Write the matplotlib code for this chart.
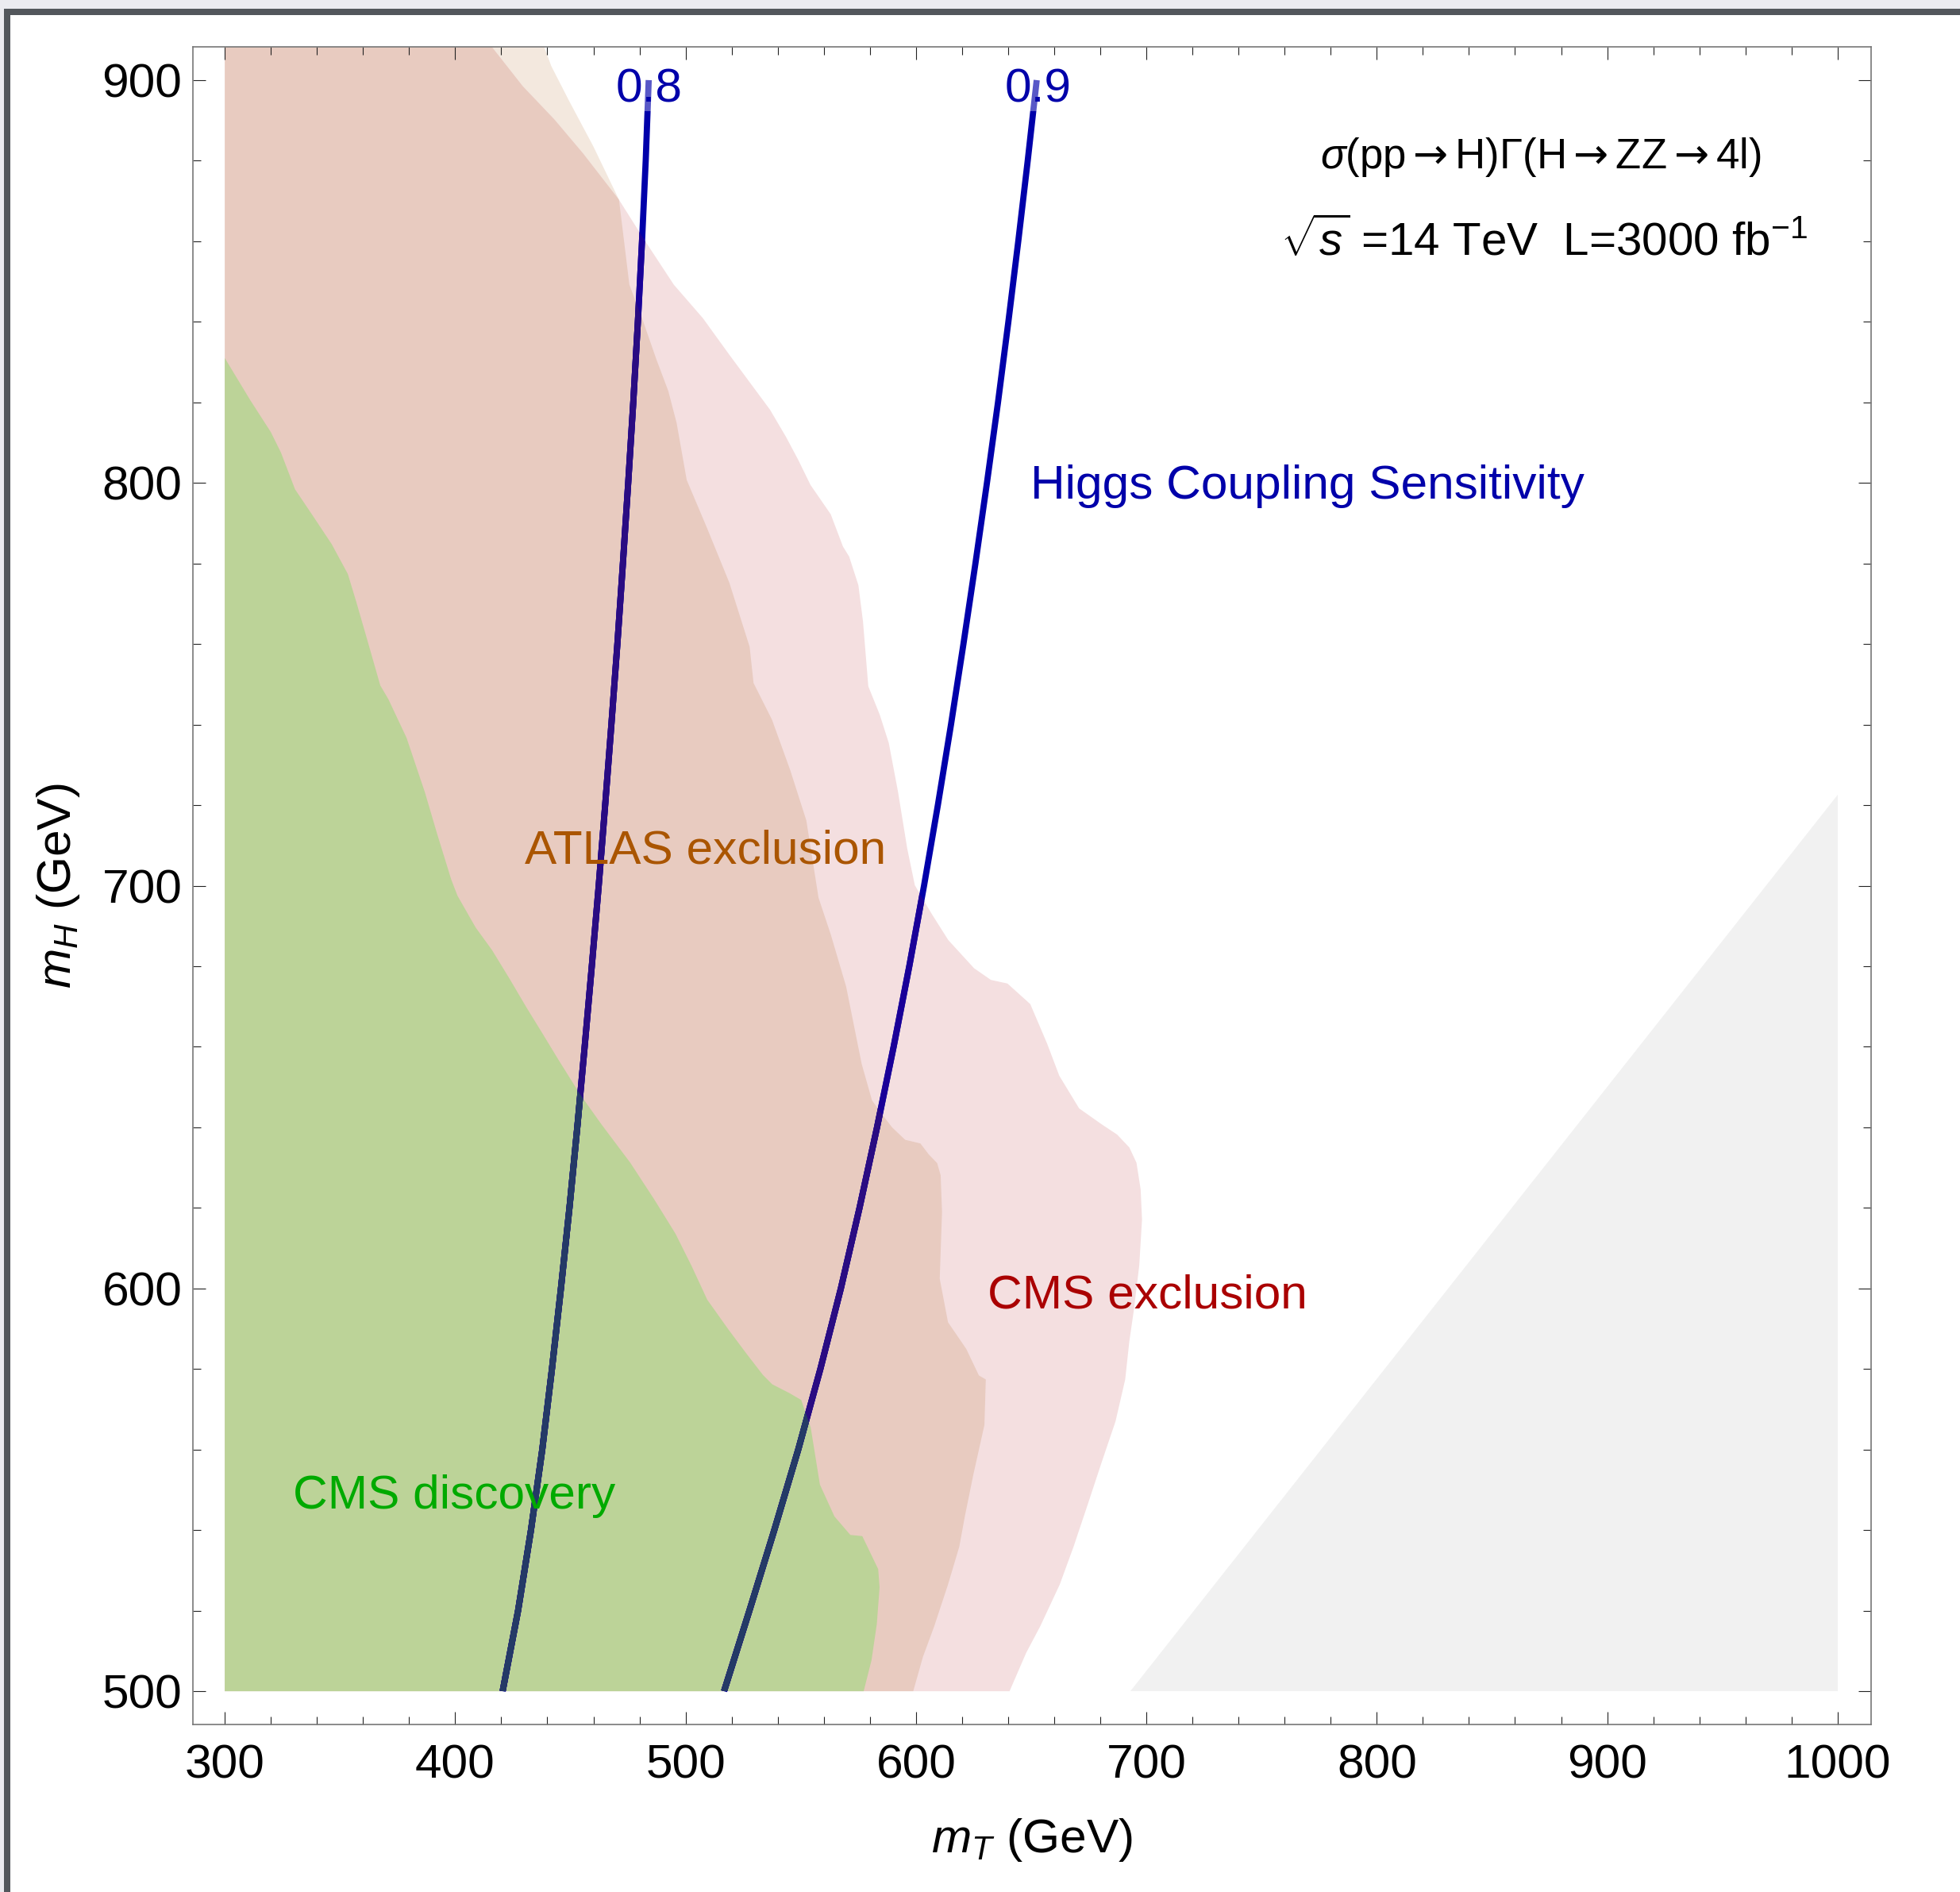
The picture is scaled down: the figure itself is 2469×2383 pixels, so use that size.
import matplotlib
matplotlib.use('Agg')
import matplotlib.pyplot as plt
from matplotlib.patches import Polygon, Rectangle
from matplotlib.ticker import MultipleLocator

plt.rcParams['font.family'] = ['Liberation Sans', 'DejaVu Sans']
plt.rcParams['mathtext.fontset'] = 'custom'
plt.rcParams['mathtext.rm'] = 'Liberation Sans'
plt.rcParams['mathtext.it'] = 'Liberation Sans:italic'
plt.rcParams['mathtext.bf'] = 'Liberation Sans:bold'
plt.rcParams['mathtext.sf'] = 'DejaVu Sans'

# scan domain of the region plots
mt_min, mh_min, mh_max = 300, 500, 910

# CMS exclusion boundary, top -> bottom
cms_mt = [413.5, 429.3, 443.1, 455.5, 471.1, 481.8, 494.9, 507.5, 519.0, 527.8, 536.6, 543.6,
          548.9, 554.2, 563.0, 568.3, 571.0, 575.0, 577.0, 579.3, 584.3, 588.2, 592.2, 596.2,
          599.5, 606.7, 614.0, 625.2, 632.5, 639.7, 649.6, 656.9, 662.2, 670.8, 680.7, 687.3,
          692.6, 695.7, 697.5, 698.1, 696.9, 694.5, 692.6, 690.8, 686.6, 680.5, 674.5, 668.4,
          662.4, 653.9, 647.8, 640.6]
cms_mh = [910, 898.5, 890.2, 881.8, 870.3, 860.6, 849.2, 840.9, 831.8, 825.0, 818.2, 811.4,
          805.7, 799.5, 792.2, 784.2, 781.7, 774.6, 765.6, 749.5, 742.4, 735.4, 723.3, 709.2,
          700.1, 693.1, 686.5, 679.5, 676.6, 675.7, 670.6, 660.8, 652.8, 644.7, 640.7, 638.2,
          635.0, 631.2, 624.6, 617.1, 605.7, 594.4, 586.9, 577.4, 567.0, 556.7, 546.3, 535.9,
          526.5, 516.1, 509.5, 500]

# ATLAS exclusion boundary, top -> bottom
atlas_mt = [437.5, 441.7, 449.3, 460.0, 471.1, 475.6, 481.1, 487.3, 492.5, 496.1, 500.5, 509.3,
            519.0, 527.8, 529.5, 537.5, 545.4, 552.4, 557.7, 563.0, 569.7, 576.4, 580.9, 584.9,
            589.6, 595.3, 601.9, 605.5, 609.2, 610.7, 611.3, 610.3, 613.9, 621.8, 627.3, 630.3,
            629.7, 624.9, 621.2, 618.8, 613.9, 607.9, 603.0, 598.8]
atlas_mh = [910, 903.5, 895.0, 883.5, 870.3, 849.2, 840.9, 830.7, 822.8, 814.9, 800.7, 788.8,
            775.2, 759.3, 750.3, 741.2, 728.7, 716.2, 697.0, 687.9, 674.9, 655.8, 646.7, 643.5,
            640.0, 636.9, 636.0, 633.3, 631.1, 628.1, 619.0, 602.4, 591.6, 585.0, 578.4, 577.4,
            566.1, 553.8, 543.4, 535.9, 526.5, 516.1, 508.5, 500]

# CMS discovery boundary, top -> bottom
disc_mt = [300.0, 311.1, 320.0, 324.4, 330.5, 338.5, 346.4, 353.4, 357.0, 361.3, 367.5, 371.0,
           378.9, 386.9, 392.2, 398.3, 401.0, 408.9, 416.0, 423.9, 430.9, 438.0, 444.9, 454.2,
           463.4, 476.0, 486.4, 495.6, 502.5, 509.4, 518.6, 526.7, 533.6, 537.6, 545.1, 550.2,
           554.3, 558.3, 564.6, 571.5, 576.7, 583.6, 584.2, 583.0, 580.7, 577.3]
disc_mh = [831.0, 820.5, 812.6, 807.5, 798.4, 791.6, 784.8, 777.4, 770.6, 762.1, 749.7, 746.3,
           736.7, 723.1, 712.8, 701.5, 697.5, 689.6, 684.0, 676.6, 669.8, 663.2, 656.7, 648.2,
           640.8, 631.2, 622.1, 613.6, 605.7, 597.2, 589.8, 583.6, 578.5, 576.2, 574.0, 572.3,
           565.5, 551.3, 543.4, 538.8, 538.5, 530.3, 525.8, 516.7, 507.7, 500]

# Higgs coupling sensitivity contours
c_mh = [500, 520, 540, 560, 580, 600, 620, 640, 660, 680, 700, 720, 740, 760, 780, 800,
        820, 840, 860, 880, 900]
c08_mt = [420.6, 427.3, 432.9, 437.8, 442.0, 445.9, 449.6, 453.0, 456.2, 459.3, 462.3, 465.1,
          467.8, 470.4, 472.8, 475.1, 477.3, 479.3, 481.1, 482.7, 484.0]
c09_mt = [516.7, 527.7, 538.5, 548.9, 558.5, 567.4, 575.5, 583.1, 590.3, 597.1, 603.5, 609.5,
          615.2, 620.6, 625.8, 630.8, 635.6, 640.1, 644.4, 648.5, 652.4]

# kinematically excluded corner
kin_mt = [693, 1000, 1000]
kin_mh = [500, 500, 722.5]

W, H = 2469, 2383
fig = plt.figure(figsize=(W / 100, H / 100), dpi=100)
ax = fig.add_axes([242.5 / W, 1 - 2171.7 / H, (2356.9 - 242.5) / W, (2171.7 - 59.3) / H])

# screenshot frame
fig.add_artist(Rectangle((0, 1 - 10.7 / H), 1, 10.7 / H, transform=fig.transFigure, color='#ebebf0', lw=0))
fig.add_artist(Rectangle((0, 0), 5 / W, 1, transform=fig.transFigure, color='#ebebf0', lw=0))
fig.add_artist(Rectangle((5 / W, 1 - 19 / H), 1, 8.3 / H, transform=fig.transFigure, color='#53575c', lw=0))
fig.add_artist(Rectangle((5 / W, 0), 7.7 / W, 1 - 10.7 / H, transform=fig.transFigure, color='#53575c', lw=0))


def region(mt, mh):
    pts = [(mt_min, mh_max)] + list(zip(mt, mh)) + [(mt_min, mh_min)]
    if mh[0] < mh_max:
        pts = pts[1:]
    return pts


atlas_pts = region(atlas_mt, atlas_mh)
cms_pts = region(cms_mt, cms_mh)
disc_pts = region(disc_mt, disc_mh)

atlas_patch = Polygon(atlas_pts, closed=True, fc='#f3e8de', ec='none', zorder=1)
ax.add_patch(atlas_patch)
cms_patch = Polygon(cms_pts, closed=True, fc='#f4dfe0', ec='none', zorder=1.1)
ax.add_patch(cms_patch)
both = Polygon(atlas_pts, closed=True, fc='#e8cbc0', ec='none', zorder=1.2)
ax.add_patch(both)
both.set_clip_path(cms_patch)
disc_patch = Polygon(disc_pts, closed=True, fc='#bcd398', ec='none', zorder=1.3)
ax.add_patch(disc_patch)
ax.add_patch(Polygon(list(zip(kin_mt, kin_mh)), closed=True, fc='#f1f1f1', ec='none', zorder=1))

# contour lines, tinted where they sit under the shaded regions
lw = 5.6
for mt in [c08_mt, c09_mt]:
    ax.plot(mt, c_mh, color='#0000aa', lw=lw, zorder=3, solid_capstyle='butt')
    l1, = ax.plot(mt, c_mh, color='#1a0098', lw=lw, zorder=3.1, solid_capstyle='butt')
    l1.set_clip_path(cms_patch)
    l2, = ax.plot(mt, c_mh, color='#2a0c82', lw=lw, zorder=3.2, solid_capstyle='butt')
    l2.set_clip_path(atlas_patch)
    l3, = ax.plot(mt, c_mh, color='#243a66', lw=lw, zorder=3.3, solid_capstyle='butt')
    l3.set_clip_path(disc_patch)

fs = 43.5
for lab, mt in [('0.8', c08_mt[-1]), ('0.9', c09_mt[-1] + 0.6)]:
    ax.text(mt, c_mh[-1] - 2.3, lab, color='#0000aa', fontsize=fs, ha='center', va='center', zorder=5,
            bbox=dict(fc='white', ec='none', alpha=0.35, pad=0.05))

ax.text(430.2, 705.5, 'ATLAS exclusion', color='#aa5500', fontsize=fs, ha='left', va='baseline', zorder=6)
ax.text(631.1, 595.1, 'CMS exclusion', color='#aa0000', fontsize=fs, ha='left', va='baseline', zorder=6)
ax.text(329.7, 545.4, 'CMS discovery', color='#00aa00', fontsize=fs, ha='left', va='baseline', zorder=6)
ax.text(649.5, 796.0, 'Higgs Coupling Sensitivity', color='#0000aa', fontsize=fs, ha='left',
        va='baseline', zorder=6)

arr = r'$\mathsf{\rightarrow}$'
ax.text(871.1, 878.1, r'$\sigma$(pp' + arr + 'H)Γ(H' + arr + 'ZZ' + arr + '4l)', color='black',
        fontsize=38, ha='center', va='baseline', zorder=6)
ax.text(872.5, 856.4, r'$\sqrt{s}$ =14 TeV  L=3000 fb$^{-1}$', color='black', fontsize=42,
        ha='center', va='baseline', zorder=6)

ax.set_xlim(286, 1014.5)
ax.set_ylim(491.8, 908.2)
ax.xaxis.set_major_locator(MultipleLocator(100))
ax.xaxis.set_minor_locator(MultipleLocator(20))
ax.yaxis.set_major_locator(MultipleLocator(100))
ax.yaxis.set_minor_locator(MultipleLocator(20))
ax.tick_params(which='both', direction='in', top=True, right=True, colors='#222222', width=0.8)
ax.tick_params(which='major', length=11.5)
ax.tick_params(which='minor', length=7)
ax.tick_params(axis='x', which='major', pad=17.5, labelsize=fs, labelcolor='black')
ax.tick_params(axis='y', which='major', pad=9.5, labelsize=fs, labelcolor='black')
for sp in ax.spines.values():
    sp.set_color('#777777')
    sp.set_linewidth(1.2)

ax.set_xlabel(r'$m_T$ (GeV)', fontsize=fs)
ax.set_ylabel(r'$m_H$ (GeV)', fontsize=fs)
ax.xaxis.set_label_coords(0.5, -0.0552)
ax.yaxis.set_label_coords(-0.0658, 0.5)

fig.savefig('out.png', dpi=100)
